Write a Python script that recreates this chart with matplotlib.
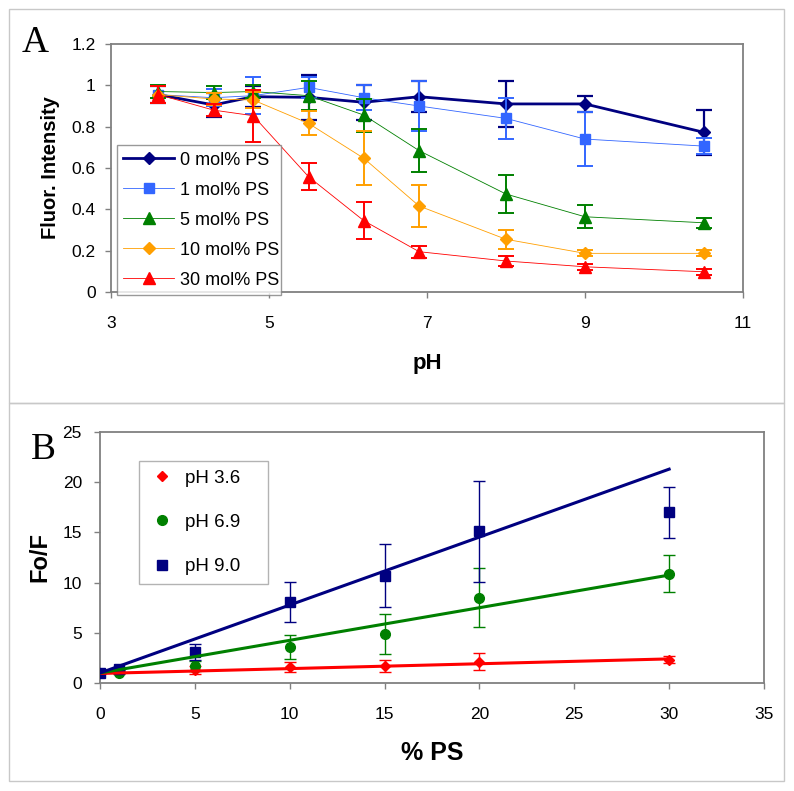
import matplotlib
matplotlib.use("Agg")
import matplotlib.pyplot as plt
from matplotlib.lines import Line2D
from matplotlib.patches import Rectangle

plt.rcParams['font.family'] = ['Liberation Sans', 'DejaVu Sans']

# ---------- Panel A data ----------
pH = [3.6, 4.3, 4.8, 5.5, 6.2, 6.9, 8.0, 9.0, 10.5]
ps0 = [0.955, 0.905, 0.945, 0.942, 0.918, 0.945, 0.91, 0.91, 0.773]
ps0_err = [0.04, 0.06, 0.05, 0.11, 0.085, 0.075, 0.11, 0.04, 0.11]
ps1 = [0.955, 0.94, 0.95, 0.99, 0.94, 0.90, 0.84, 0.74, 0.706]
ps1_err = [0.04, 0.04, 0.09, 0.05, 0.06, 0.12, 0.10, 0.13, 0.04]
ps5 = [0.97, 0.965, 0.97, 0.95, 0.856, 0.684, 0.474, 0.364, 0.335]
ps5_err = [0.03, 0.03, 0.03, 0.07, 0.08, 0.105, 0.09, 0.055, 0.025]
ps10 = [0.955, 0.934, 0.929, 0.816, 0.647, 0.416, 0.255, 0.187, 0.187]
ps10_err = [0.04, 0.03, 0.04, 0.058, 0.13, 0.10, 0.047, 0.015, 0.015]
ps30 = [0.955, 0.88, 0.853, 0.558, 0.345, 0.195, 0.15, 0.122, 0.098]
ps30_err = [0.04, 0.03, 0.125, 0.065, 0.09, 0.03, 0.025, 0.015, 0.015]
labels_A = ["0 mol% PS", "1 mol% PS", "5 mol% PS", "10 mol% PS", "30 mol% PS"]

# ---------- Panel B data ----------
ps_pct = [0, 1, 5, 10, 15, 20, 30]
ph36 = [1.0, 1.05, 1.25, 1.6, 1.7, 2.1, 2.3]
ph36_err = [0, 0.1, 0.4, 0.5, 0.6, 0.85, 0.35]
ph69 = [1.0, 1.03, 1.65, 3.6, 4.85, 8.5, 10.9]
ph69_err = [0, 0.1, 0.5, 1.2, 2.0, 2.95, 1.8]
ph90 = [1.0, 1.4, 3.1, 8.1, 10.7, 15.1, 17.0]
ph90_err = [0, 0.1, 0.8, 2.0, 3.1, 5.0, 2.55]
fit_x = [0, 30]
fit36 = [0.95, 2.4]
fit69 = [1.0, 10.75]
fit90 = [1.0, 21.3]
labels_B = ["pH 3.6", "pH 6.9", "pH 9.0"]

fig = plt.figure(figsize=(7.94, 7.91), dpi=100)
W, H = 794, 791

def fx(px):
    return px / W

def fy(py):
    return 1 - py / H

# outer frames
for (x0, y0, x1, y1) in [(9, 9, 784, 403), (9, 403, 784, 781)]:
    fig.patches.append(Rectangle((fx(x0), fy(y1)), fx(x1) - fx(x0), fy(y0) - fy(y1),
                                 transform=fig.transFigure, fill=False,
                                 edgecolor='#c8c8c8', linewidth=1.0))

spine_col = '#808080'

def style_axes(ax):
    for s in ax.spines.values():
        s.set_color(spine_col)
        s.set_linewidth(1.3)
    ax.tick_params(direction='out', length=4, width=1.0, color=spine_col,
                   labelsize=12.5, labelcolor='black')

# ---------- Panel A ----------
axA_l, axA_r, axA_t, axA_b = 111, 743, 44, 292
axA = fig.add_axes([fx(axA_l), fy(axA_b), fx(axA_r) - fx(axA_l), (axA_b - axA_t) / H])
seriesA = [
    (ps0, ps0_err, '#000080', 'D', 6.5, 2.0, 1.6),
    (ps1, ps1_err, '#3366FF', 's', 7.5, 0.6, 1.4),
    (ps5, ps5_err, '#008000', '^', 8.5, 0.6, 1.4),
    (ps10, ps10_err, '#FF9F00', 'D', 6.5, 0.6, 1.4),
    (ps30, ps30_err, '#FF0000', '^', 8.5, 0.6, 1.4),
]
handlesA = []
for i, (vals, err, col, mk, ms, lw, elw) in enumerate(seriesA):
    axA.errorbar(pH, vals, yerr=err, fmt='none', ecolor=col, elinewidth=elw,
                 capsize=5.5, capthick=elw, zorder=2 + i)
    axA.plot(pH, vals, color=col, linewidth=lw, marker=mk, markersize=ms,
             markerfacecolor=col, markeredgecolor=col, zorder=2 + i)
    handlesA.append(Line2D([], [], color=col, linewidth=lw, marker=mk,
                           markersize=ms, markerfacecolor=col, markeredgecolor=col))
axA.set_xlim(3, 11)
axA.set_ylim(0, 1.2)
axA.set_xticks([3, 5, 7, 9, 11])
axA.set_yticks([0, 0.2, 0.4, 0.6, 0.8, 1.0, 1.2])
axA.set_yticklabels(['0', '0.2', '0.4', '0.6', '0.8', '1', '1.2'])
style_axes(axA)
axA.tick_params(axis='x', pad=13)
axA.tick_params(axis='y', pad=7)
axA.set_xlabel('pH', fontsize=16, fontweight='bold', labelpad=16)
axA.set_ylabel('Fluor. Intensity', fontsize=14.5, fontweight='bold', labelpad=8)
# legend box in pixels: x 117-281, y 146-295
wA = (281 - 117) / (axA_r - axA_l)
hA = (295 - 146) / (axA_b - axA_t)
legA = axA.legend(handlesA, labels_A, loc='lower left', mode='expand',
                  bbox_to_anchor=((117 - axA_l) / (axA_r - axA_l),
                                  (axA_b - 295) / (axA_b - axA_t), wA, hA),
                  borderaxespad=0,
                  fontsize=13, frameon=True, fancybox=False, handlelength=2.8,
                  handletextpad=0.35, labelspacing=0.72, borderpad=0.35)
legA.get_frame().set_edgecolor('#808080')
legA.get_frame().set_linewidth(1.0)
legA.set_zorder(20)
fig.text(fx(22), fy(52), 'A', fontsize=27, family=['Liberation Serif', 'DejaVu Serif'],
         ha='left', va='baseline')

# ---------- Panel B ----------
axB_l, axB_r, axB_t, axB_b = 100, 764, 432, 683
axB = fig.add_axes([fx(axB_l), fy(axB_b), fx(axB_r) - fx(axB_l), (axB_b - axB_t) / H])
seriesB = [
    (ph36, ph36_err, fit36, '#FF0000', 'D', 5),
    (ph69, ph69_err, fit69, '#008000', 'o', 7),
    (ph90, ph90_err, fit90, '#000080', 's', 7),
]
handlesB = []
for i, (vals, err, fit, col, mk, ms) in enumerate(seriesB):
    axB.errorbar(ps_pct, vals, yerr=err, fmt=mk, color=col, markersize=ms,
                 ecolor=col, elinewidth=1.0, capsize=4.5, capthick=1.0,
                 markeredgecolor=col, zorder=2 + i)
    axB.plot(fit_x, fit, color=col, linewidth=2.2, zorder=6 + i)
    handlesB.append(Line2D([], [], linestyle='none', marker=mk, markersize=ms,
                           color=col, markeredgecolor=col))
axB.set_xlim(0, 35)
axB.set_ylim(0, 25)
axB.set_xticks(range(0, 36, 5))
axB.set_yticks(range(0, 26, 5))
style_axes(axB)
axB.tick_params(axis='x', pad=13)
axB.tick_params(axis='y', pad=9)
axB.set_xlabel('% PS', fontsize=18, fontweight='bold', labelpad=14)
axB.set_ylabel('Fo/F', fontsize=17, fontweight='bold', labelpad=8)
# legend box in pixels: x 139-268, y 461-580
wB = (268 - 139) / (axB_r - axB_l)
hB = (580 - 461) / (axB_b - axB_t)
legB = axB.legend(handlesB, labels_B, loc='upper left', mode='expand',
                  bbox_to_anchor=((139 - axB_l) / (axB_r - axB_l),
                                  (axB_b - 580) / (axB_b - axB_t), wB, hB),
                  borderaxespad=0,
                  fontsize=13.5, frameon=True, fancybox=False, handlelength=1.6,
                  handletextpad=0.4, labelspacing=1.45, borderpad=0.45)
legB.get_frame().set_edgecolor('#a0a0a0')
legB.get_frame().set_linewidth(1.0)
fig.text(fx(31), fy(459), 'B', fontsize=27, family=['Liberation Serif', 'DejaVu Serif'],
         ha='left', va='baseline')

fig.savefig('out.png', dpi=100)
